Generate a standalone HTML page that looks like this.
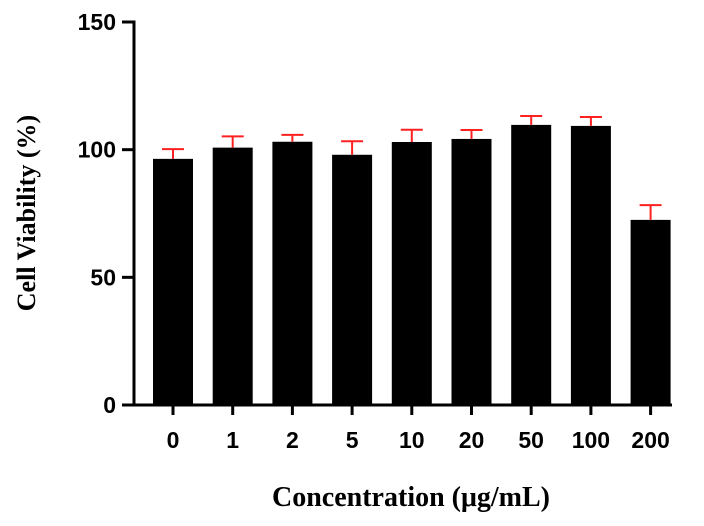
<!DOCTYPE html>
<html><head><meta charset="utf-8"><style>
body{margin:0;background:#fff;}
svg{display:block;}
</style></head><body>
<svg id="chart" width="704" height="526" xmlns="http://www.w3.org/2000/svg"></svg>
<script>
const categories=["0","1","2","5","10","20","50","100","200"];
const values=[96.4,100.8,103.1,98.0,103.0,104.2,109.7,109.3,72.5];
const errors=[3.8,4.4,2.7,5.3,4.8,3.5,3.5,3.5,5.8];
const yTicks=[0,50,100,150];
const svg=document.getElementById('chart');
const NS='http://www.w3.org/2000/svg';
const x0=134,y0=405,yTop=22,xEnd=672;
const y=v=>y0-(v/150)*(y0-yTop);
const step=59.7, firstC=173, bw=40;
const xc=i=>firstC+i*step;
function mk(t,a,parent){const e=document.createElementNS(NS,t);for(const k in a)e.setAttribute(k,a[k]);(parent||svg).appendChild(e);return e;}
categories.forEach((c,i)=>{
  const r=mk('rect',{x:xc(i)-bw/2,y:y(values[i]),width:bw,height:y0-y(values[i]),fill:'#000'});
  
  
  const g=mk('g',{stroke:'#ff2020','stroke-width':2});
  
  
  mk('line',{x1:xc(i),x2:xc(i),y1:y(values[i]),y2:y(values[i]+errors[i])},g);
  mk('line',{x1:xc(i)-11,x2:xc(i)+11,y1:y(values[i]+errors[i]),y2:y(values[i]+errors[i])},g);
  const t=mk('text',{x:xc(i),y:448,'text-anchor':'middle','font-family':'Liberation Sans, sans-serif','font-weight':'bold','font-size':23});
  t.textContent=c;
  
  
  mk('line',{x1:xc(i),x2:xc(i),y1:y0,y2:y0+10,stroke:'#000','stroke-width':3});
});
const ya=mk('line',{x1:x0,x2:x0,y1:yTop-1.5,y2:y0+1.5,stroke:'#000','stroke-width':3});

const xa=mk('line',{x1:x0-1.5,x2:xEnd,y1:y0,y2:y0,stroke:'#000','stroke-width':3});

yTicks.forEach(v=>{
  mk('line',{x1:x0-12,x2:x0,y1:y(v),y2:y(v),stroke:'#000','stroke-width':3});
  const t=mk('text',{x:x0-18,y:y(v)+8,'text-anchor':'end','font-family':'Liberation Sans, sans-serif','font-weight':'bold','font-size':23});
  t.textContent=v;
  
  
});
const yt=mk('text',{x:0,y:0,transform:'translate(35,213) rotate(-90)','text-anchor':'middle','font-family':'Liberation Serif, serif','font-weight':'bold','font-size':26});
yt.textContent='Cell Viability  (%)';

const xt=mk('text',{x:411,y:506,'text-anchor':'middle','font-family':'Liberation Serif, serif','font-weight':'bold','font-size':28});
xt.textContent='Concentration (μg/mL)';

</script>
</body></html>
